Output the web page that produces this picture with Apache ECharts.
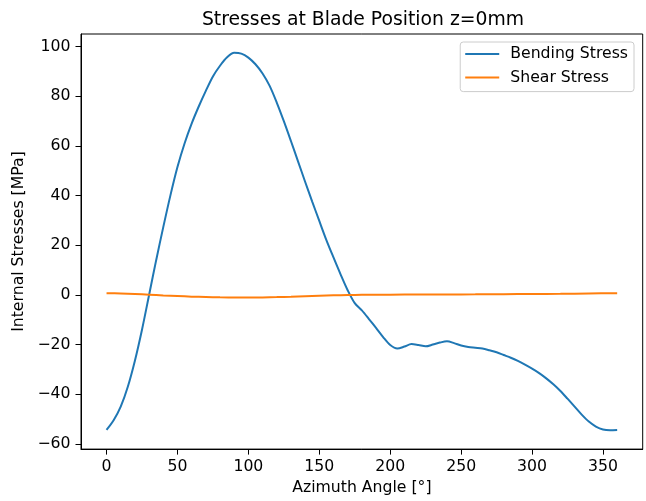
<!DOCTYPE html>
<html>
<head>
<meta charset="utf-8">
<script src="https://cdn.jsdelivr.net/npm/echarts@6/dist/echarts.min.js"></script>
<style>html,body{margin:0;padding:0;background:#fff}#c{width:646px;height:501px}</style>
</head>
<body>
<div id="c"></div>
<script>
const angles = [0,5,10,15,20,25,30,35,40,45,50,55,60,65,70,75,80,85,90,95,100,105,110,115,120,125,130,135,140,145,150,155,160,165,170,175,180,185,190,195,200,205,210,215,220,225,230,235,240,245,250,255,260,265,270,275,280,285,290,295,300,305,310,315,320,325,330,335,340,345,350,355,360];
const bending = [-54.4,-50.5,-45,-37,-26.5,-14,0,14,27.3,40,51.5,61,69,75.9,82.2,88,92.3,95.7,97.5,97.2,95.6,92.9,89.2,84.2,77.5,70,62,53.8,45.6,37.6,29.8,22.1,15.1,8.3,1.9,-3.3,-6.2,-9.7,-13.3,-17,-20.2,-21.6,-20.8,-19.8,-20.2,-20.7,-20,-19.2,-18.7,-19.4,-20.4,-21,-21.3,-21.6,-22.3,-23.1,-24.2,-25.3,-26.6,-28.1,-29.7,-31.5,-33.6,-36,-38.7,-41.8,-45,-48.2,-51,-53,-54.2,-54.5,-54.4];
const shearAngles = [0,10,20,30,40,50,60,70,80,90,100,110,120,130,140,150,160,170,180,190,200,220,240,260,280,300,320,340,360];
const shear = [0.7,0.6,0.4,0.1,-0.2,-0.45,-0.7,-0.85,-0.98,-1.05,-1.05,-1.0,-0.88,-0.72,-0.52,-0.32,-0.17,-0.05,0.03,0.08,0.12,0.16,0.2,0.24,0.3,0.36,0.45,0.57,0.7];
const xTicks = [0,50,100,150,200,250,300,350];
const yTicks = [-60,-40,-20,0,20,40,60,80,100];

const font = 'DejaVu Sans';
const fs = 15.7;
const chart = echarts.init(document.getElementById('c'), null, {renderer:'canvas'});
const fmt = v => String(v).replace('-', '\u2212');
chart.setOption({
  animation: false,
  textStyle: {fontFamily: font},
  title: {
    text: 'Stresses at Blade Position z=0mm',
    left: 358, top: 6, textAlign: 'center',
    textStyle: {fontFamily: font, fontSize: 18.8, fontWeight: 'normal', color: '#000'}
  },
  grid: {left: 81, top: 34, right: 3.3, bottom: 49.3, show: true, borderColor: '#000', borderWidth: 1, backgroundColor: 'transparent'},
  legend: {
    orient: 'vertical', right: 12, top: 42,
    padding: [4, 6, 6, 5], itemGap: 7.6, itemWidth: 34, itemHeight: 2, icon: 'rect',
    borderColor: '#cccccc', borderWidth: 1, borderRadius: 3, backgroundColor: 'rgba(255,255,255,0.8)',
    textStyle: {fontFamily: font, fontSize: fs, color: '#000', padding: [0,0,0,6]},
    data: ['Bending Stress', 'Shear Stress']
  },
  xAxis: {
    type: 'value', min: -18, max: 378,
    name: 'Azimuth Angle [°]', nameLocation: 'middle', nameGap: 30,
    nameTextStyle: {fontFamily: font, fontSize: fs, color: '#000'},
    splitLine: {show: false},
    axisLine: {show: true, onZero: false, lineStyle: {color: '#000', width: 1}},
    axisTick: {show: true, inside: false, length: 5.5, lineStyle: {color: '#000'}, customValues: xTicks},
    axisLabel: {margin: 10, fontFamily: font, fontSize: fs, color: '#000', customValues: xTicks, formatter: fmt}
  },
  yAxis: {
    type: 'value', min: -62.1, max: 105.1,
    name: 'Internal Stresses [MPa]', nameLocation: 'middle', nameGap: 50,
    nameTextStyle: {fontFamily: font, fontSize: fs, color: '#000'},
    splitLine: {show: false},
    axisLine: {show: true, onZero: false, lineStyle: {color: '#000', width: 1}},
    axisTick: {show: true, inside: false, length: 5.5, lineStyle: {color: '#000'}, customValues: yTicks},
    axisLabel: {margin: 10.5, fontFamily: font, fontSize: fs, color: '#000', customValues: yTicks, formatter: fmt}
  },
  series: [
    {name: 'Bending Stress', type: 'line', data: angles.map((a,i)=>[a, bending[i]]), showSymbol: false, smooth: 0.3,
     lineStyle: {color: '#1f77b4', width: 2}, itemStyle: {color: '#1f77b4'}},
    {name: 'Shear Stress', type: 'line', data: shearAngles.map((a,i)=>[a, shear[i]]), showSymbol: false, smooth: 0.3,
     lineStyle: {color: '#ff7f0e', width: 2}, itemStyle: {color: '#ff7f0e'}}
  ]
});
</script>
</body>
</html>
